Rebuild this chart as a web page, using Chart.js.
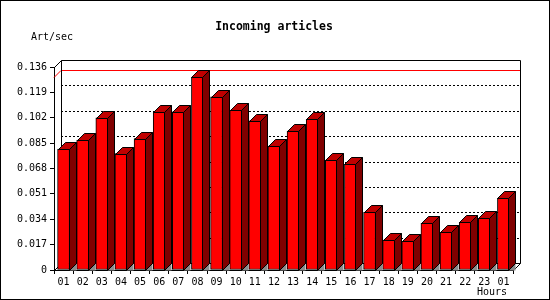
<!DOCTYPE html>
<html><head><meta charset="utf-8">
<script src="https://cdn.jsdelivr.net/npm/chart.js@4/dist/chart.umd.min.js"></script>
<style>html,body{margin:0;padding:0;background:#fff}#wrap{width:550px;height:300px;position:relative}</style>
</head><body><div id="wrap"><canvas id="c" width="550" height="300"></canvas></div>
<script>
const hours = ['01','02','03','04','05','06','07','08','09','10','11','12','13','14','15','16','17','18','19','20','21','22','23','01'];
const artPerSec = [0.081,0.087,0.102,0.078,0.088,0.106,0.106,0.129,0.116,0.107,0.100,0.083,0.093,0.101,0.0735,0.0708,0.0387,0.0201,0.0192,0.0313,0.0252,0.032,0.0346,0.048];
const yTicks = [0,0.017,0.034,0.051,0.068,0.085,0.102,0.119,0.136];
const yTickLabels = ['0','0.017','0.034','0.051','0.068','0.085','0.102','0.119','0.136'];
const titleText = 'Incoming articles';
const yUnit = 'Art/sec';
const xUnit = 'Hours';

const D = 7;
const MONO = "'DejaVu Sans Mono', monospace";
const px = v => Math.round(v) + 0.5;

function line(ctx, x1, y1, x2, y2) {
  ctx.beginPath(); ctx.moveTo(x1, y1); ctx.lineTo(x2, y2); ctx.stroke();
}

const threeD = {
  id: 'threeD',
  beforeDatasetsDraw(chart) {
    const ctx = chart.ctx, a = chart.chartArea, ys = chart.scales.y;
    const L = Math.round(a.left), R = Math.round(a.right), T = Math.round(a.top), B = Math.round(a.bottom);
    ctx.save();
    ctx.lineWidth = 1;
    // dotted gridlines on back wall
    ctx.strokeStyle = '#000';
    ctx.setLineDash([2, 2]);
    for (let i = 1; i < yTicks.length - 1; i++) {
      const y = px(ys.getPixelForValue(yTicks[i]) - D);
      line(ctx, L + D, y, R + D, y);
    }
    ctx.setLineDash([]);
    // max line
    const mx = Math.max(...artPerSec);
    const my = Math.round(ys.getPixelForValue(mx));
    ctx.strokeStyle = '#ff0000';
    line(ctx, L + D, my - D + 0.5, R + D, my - D + 0.5);
    line(ctx, L, my + 0.5, L + D, my - D + 0.5);
    // frame
    ctx.strokeStyle = '#000';
    line(ctx, L + D + 0.5, T - D + 0.5, R + D + 0.5, T - D + 0.5);
    line(ctx, R + D + 0.5, T - D + 0.5, R + D + 0.5, B - D + 0.5);
    line(ctx, L + D + 0.5, T - D + 0.5, L + D + 0.5, B - D + 0.5);
    line(ctx, L + 0.5, T + 0.5, L + D + 0.5, T - D + 0.5);
    line(ctx, L + 0.5, B + 0.5, L + D + 0.5, B - D + 0.5);
    line(ctx, R + 0.5, B + 0.5, R + D + 0.5, B - D + 0.5);
    line(ctx, L + D + 0.5, B - D + 0.5, R + D + 0.5, B - D + 0.5);
    ctx.restore();
  },
  afterDatasetsDraw(chart) {
    const ctx = chart.ctx;
    const meta = chart.getDatasetMeta(0);
    ctx.save();
    ctx.lineWidth = 1;
    ctx.strokeStyle = '#000';
    ctx.lineJoin = 'miter';
    meta.data.forEach(el => {
      const p = el.getProps(['x', 'y', 'base', 'width'], true);
      const l = Math.round(p.x - p.width / 2) + 0.5, r = Math.round(p.x + p.width / 2) - 0.5;
      const t = Math.round(p.y) + 0.5, b = Math.round(p.base) + 0.5;
      // grey floor triangle
      ctx.fillStyle = '#8c8c8c';
      ctx.beginPath(); ctx.moveTo(r, b); ctx.lineTo(r + D, b - D); ctx.lineTo(r + D, b); ctx.closePath(); ctx.fill();
      // side
      ctx.fillStyle = '#800000';
      ctx.beginPath(); ctx.moveTo(r, t); ctx.lineTo(r + D, t - D); ctx.lineTo(r + D, b - D); ctx.lineTo(r, b); ctx.closePath(); ctx.fill(); ctx.stroke();
      // top
      ctx.fillStyle = '#c00000';
      ctx.beginPath(); ctx.moveTo(l, t); ctx.lineTo(l + D, t - D); ctx.lineTo(r + D, t - D); ctx.lineTo(r, t); ctx.closePath(); ctx.fill(); ctx.stroke();
    });
    ctx.restore();
  },
  afterDraw(chart) {
    const ctx = chart.ctx;
    ctx.save();
    ctx.fillStyle = '#000';
    ctx.font = "bold 11.5px " + MONO;
    ctx.textAlign = 'center'; ctx.textBaseline = 'middle';
    ctx.fillText(titleText, 274, 27);
    ctx.font = "10px " + MONO;
    ctx.textAlign = 'left';
    ctx.fillText(yUnit, 31, 37);
    ctx.textAlign = 'right';
    ctx.fillText(xUnit, 507, 292);
    ctx.strokeStyle = '#000'; ctx.lineWidth = 1;
    ctx.strokeRect(0.5, 0.5, 549, 299);
    ctx.restore();
  }
};

new Chart(document.getElementById('c'), {
  type: 'bar',
  data: {
    labels: hours,
    datasets: [{
      data: artPerSec,
      backgroundColor: '#ff0000',
      borderColor: '#000',
      borderWidth: 1,
      borderSkipped: false,
      barThickness: 12
    }]
  },
  options: {
    responsive: false,
    animation: false,
    devicePixelRatio: 1,
    layout: { padding: { left: 0, top: 67, right: 37, bottom: 0 } },
    plugins: { legend: { display: false }, tooltip: { enabled: false }, title: { display: false } },
    scales: {
      x: {
        type: 'category',
        offset: true,
        grid: { offset: true, drawOnChartArea: false, drawTicks: true, tickLength: 4, color: '#000' },
        border: { display: true, color: '#000', width: 1 },
        ticks: { font: { family: MONO, size: 10 }, color: '#000', padding: 2, maxRotation: 0, autoSkip: false },
        afterFit(s) { s.height = 30; }
      },
      y: {
        min: 0, max: 0.136,
        afterBuildTicks(s) { s.ticks = yTicks.map(v => ({ value: v })); },
        grid: { drawOnChartArea: false, drawTicks: true, tickLength: 4, color: '#000' },
        border: { display: true, color: '#000', width: 1 },
        ticks: { font: { family: MONO, size: 10 }, color: '#000', padding: 3, callback: (v, i) => yTickLabels[i] },
        afterFit(s) { s.width = 54; }
      }
    }
  },
  plugins: [threeD]
});
</script></body></html>
